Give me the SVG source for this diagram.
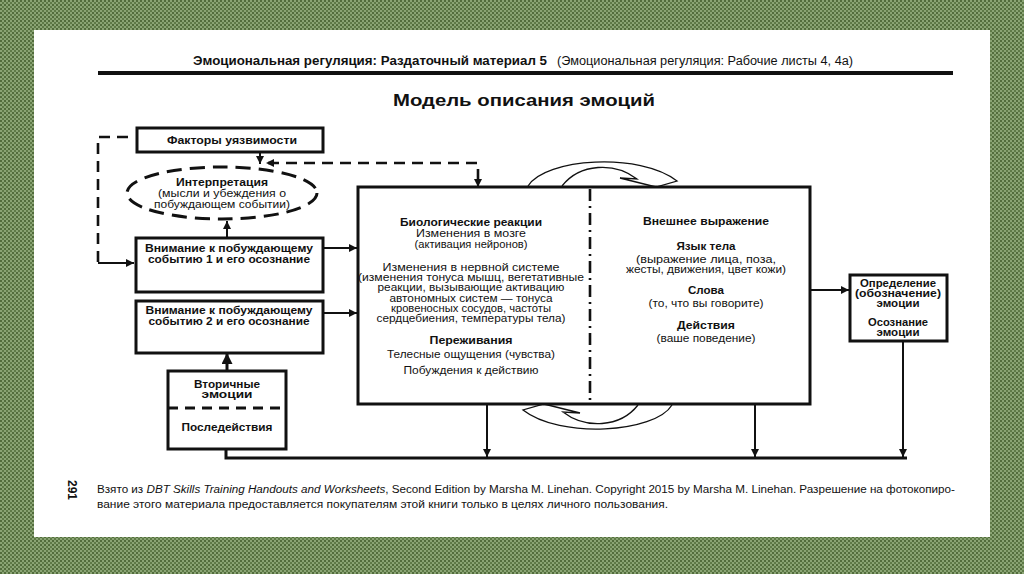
<svg xmlns="http://www.w3.org/2000/svg" width="1024" height="574" viewBox="0 0 1024 574">
<defs>
<pattern id="bg" width="4" height="4" patternUnits="userSpaceOnUse">
<rect width="4" height="4" fill="#8aa474"/>
<rect width="2" height="2" fill="#526c3c"/>
<rect x="2" y="2" width="2" height="2" fill="#5e7a47"/>
</pattern>
<marker id="ah" viewBox="0 0 10 10" refX="10" refY="5" markerWidth="9" markerHeight="8" markerUnits="userSpaceOnUse" orient="auto-start-reverse">
<path d="M0,0 L10,5 L0,10 z" fill="#111"/>
</marker>
<marker id="ahb" viewBox="0 0 10 10" refX="10" refY="5" markerWidth="11" markerHeight="11" markerUnits="userSpaceOnUse" orient="auto">
<path d="M0,0 L10,5 L0,10 z" fill="#111"/>
</marker>
</defs>
<style>
.box{fill:#fff;stroke:#111;stroke-width:3}
.ln{fill:none;stroke:#111;stroke-width:2}
.thk{fill:none;stroke:#111;stroke-width:3}
.dash{fill:none;stroke:#111;stroke-width:2.6;stroke-dasharray:11 7}
.curve{fill:none;stroke:#111;stroke-width:1.3}
text{font-family:"Liberation Sans",Arial,"DejaVu Sans",sans-serif;fill:#111;text-anchor:middle}
.b{font-weight:bold;font-size:10px}
.r{font-size:11px}
.rb{font-weight:bold;font-size:11px}
</style>
<rect width="1024" height="574" fill="url(#bg)"/>
<rect x="34" y="30" width="956" height="507" fill="#fff"/>

<g id="header">
<text x="370" y="65" font-size="12.5" font-weight="bold" textLength="354" lengthAdjust="spacingAndGlyphs">Эмоциональная регуляция: Раздаточный материал 5</text>
<text x="705" y="65" font-size="12" textLength="296" lengthAdjust="spacingAndGlyphs">(Эмоциональная регуляция: Рабочие листы 4, 4а)</text>
<rect x="98" y="71" width="855" height="4" fill="#111"/>
<text x="524" y="106" font-size="17" font-weight="bold" textLength="262" lengthAdjust="spacingAndGlyphs">Модель описания эмоций</text>
</g>

<g id="connectors">
<line class="ln" x1="260" y1="152" x2="260" y2="164" marker-end="url(#ah)"/>
<path class="dash" d="M268,163 H478 V180"/>
<line class="ln" x1="478" y1="178" x2="478" y2="187" marker-end="url(#ah)"/>
<path d="M274,159 L266,163 L274,167 z" fill="#111"/>
<path class="dash" d="M98,262 V137 H128"/>
<line class="ln" x1="98" y1="263" x2="134" y2="263" marker-end="url(#ah)"/>
<line class="ln" x1="227" y1="238" x2="227" y2="221" marker-end="url(#ah)"/>
<line class="thk" x1="229" y1="288" x2="229" y2="268" marker-end="url(#ahb)"/>
<line class="thk" x1="227" y1="347" x2="227" y2="328" marker-end="url(#ahb)"/>
<line class="thk" x1="227" y1="371" x2="227" y2="353" marker-end="url(#ahb)"/>
<line class="ln" x1="323" y1="248" x2="357" y2="248" marker-end="url(#ah)"/>
<line class="ln" x1="323" y1="313" x2="357" y2="313" marker-end="url(#ah)"/>
<line class="ln" x1="810" y1="290" x2="849" y2="290" marker-end="url(#ah)"/>
<path class="thk" d="M226,450 V458 H907"/>
<line class="ln" x1="487" y1="404" x2="487" y2="457" marker-end="url(#ah)"/>
<line class="ln" x1="755" y1="404" x2="755" y2="457" marker-end="url(#ah)"/>
<line class="ln" x1="903" y1="341" x2="903" y2="457" marker-end="url(#ah)"/>
</g>

<g id="vulnerability">
<rect class="box" x="137" y="128" width="186" height="24"/>
<text class="b" x="232" y="144" textLength="130" lengthAdjust="spacingAndGlyphs">Факторы уязвимости</text>
</g>

<g id="interpretation">
<ellipse cx="222" cy="193" rx="95" ry="26" fill="#fff" stroke="#111" stroke-width="3" stroke-dasharray="15 8"/>
<text class="b" x="222" y="186" textLength="92" lengthAdjust="spacingAndGlyphs">Интерпретация</text>
<text class="r" x="222" y="197" font-size="10.5" textLength="128" lengthAdjust="spacingAndGlyphs">(мысли и убеждения о</text>
<text class="r" x="222" y="208" font-size="10.5" textLength="136" lengthAdjust="spacingAndGlyphs">побуждающем событии)</text>
</g>

<g id="attention1">
<rect class="box" x="136" y="238" width="187" height="54"/>
<text class="b" x="229" y="252" textLength="168" lengthAdjust="spacingAndGlyphs">Внимание к побуждающему</text>
<text class="b" x="229" y="263" textLength="162" lengthAdjust="spacingAndGlyphs">событию 1 и его осознание</text>
</g>

<g id="attention2">
<rect class="box" x="136" y="301" width="187" height="52"/>
<text class="b" x="229" y="314" textLength="167" lengthAdjust="spacingAndGlyphs">Внимание к побуждающему</text>
<text class="b" x="229" y="325" textLength="161" lengthAdjust="spacingAndGlyphs">событию 2 и его осознание</text>
</g>

<g id="secondary">
<rect class="box" x="168" y="371" width="118" height="78"/>
<line x1="168" y1="408" x2="286" y2="408" stroke="#111" stroke-width="3" stroke-dasharray="10 7"/>
<text class="b" x="227" y="388" textLength="66" lengthAdjust="spacingAndGlyphs">Вторичные</text>
<text class="b" x="227" y="398" textLength="51" lengthAdjust="spacingAndGlyphs">эмоции</text>
<text class="b" x="227" y="431" textLength="91" lengthAdjust="spacingAndGlyphs">Последействия</text>
</g>

<g id="emotion">
<rect class="box" x="358" y="187" width="452" height="217"/>
<line x1="590" y1="189" x2="590" y2="403" stroke="#111" stroke-width="2.6" stroke-dasharray="12 5 2 5"/>
<text class="rb" x="471" y="226" textLength="142" lengthAdjust="spacingAndGlyphs">Биологические реакции</text>
<text class="r" x="471" y="237" textLength="110" lengthAdjust="spacingAndGlyphs">Изменения в мозге</text>
<text class="r" x="471" y="248" textLength="113" lengthAdjust="spacingAndGlyphs">(активация нейронов)</text>
<text class="r" x="471" y="271" textLength="177" lengthAdjust="spacingAndGlyphs">Изменения в нервной системе</text>
<text class="r" x="471" y="281" textLength="226" lengthAdjust="spacingAndGlyphs">(изменения тонуса мышц, вегетативные</text>
<text class="r" x="471" y="291" textLength="187" lengthAdjust="spacingAndGlyphs">реакции, вызывающие активацию</text>
<text class="r" x="471" y="302" textLength="163" lengthAdjust="spacingAndGlyphs">автономных систем — тонуса</text>
<text class="r" x="471" y="312" textLength="160" lengthAdjust="spacingAndGlyphs">кровеносных сосудов, частоты</text>
<text class="r" x="471" y="322" textLength="189" lengthAdjust="spacingAndGlyphs">сердцебиения, температуры тела)</text>
<text class="rb" x="471" y="344" textLength="83" lengthAdjust="spacingAndGlyphs">Переживания</text>
<text class="r" x="471" y="358" textLength="168" lengthAdjust="spacingAndGlyphs">Телесные ощущения (чувства)</text>
<text class="r" x="471" y="374" textLength="135" lengthAdjust="spacingAndGlyphs">Побуждения к действию</text>
<text class="rb" x="706" y="225" textLength="126" lengthAdjust="spacingAndGlyphs">Внешнее выражение</text>
<text class="rb" x="706" y="250" textLength="59" lengthAdjust="spacingAndGlyphs">Язык тела</text>
<text class="r" x="706" y="263" textLength="140" lengthAdjust="spacingAndGlyphs">(выражение лица, поза,</text>
<text class="r" x="706" y="273" textLength="160" lengthAdjust="spacingAndGlyphs">жесты, движения, цвет кожи)</text>
<text class="rb" x="706" y="294" textLength="36" lengthAdjust="spacingAndGlyphs">Слова</text>
<text class="r" x="706" y="307" textLength="115" lengthAdjust="spacingAndGlyphs">(то, что вы говорите)</text>
<text class="rb" x="706" y="329" textLength="58" lengthAdjust="spacingAndGlyphs">Действия</text>
<text class="r" x="706" y="342" textLength="99" lengthAdjust="spacingAndGlyphs">(ваше поведение)</text>
<path id="loop-top" class="curve" d="M528,186 C545,158 640,152 677,181 L656,187 L620,178 L637,179 C615,162 580,163 562,186"/>
<path id="loop-bottom" class="curve" d="M528,186 C545,158 640,152 677,181 L656,187 L620,178 L637,179 C615,162 580,163 562,186" transform="rotate(180 600 295.5)"/>
</g>

<g id="labeling">
<rect class="box" x="850" y="275" width="97" height="66"/>
<text class="b" x="898" y="287" textLength="76" lengthAdjust="spacingAndGlyphs">Определение</text>
<text class="b" x="898" y="297" textLength="86" lengthAdjust="spacingAndGlyphs">(обозначение)</text>
<text class="b" x="898" y="307" textLength="43" lengthAdjust="spacingAndGlyphs">эмоции</text>
<text class="b" x="898" y="326" textLength="60" lengthAdjust="spacingAndGlyphs">Осознание</text>
<text class="b" x="898" y="336" textLength="43" lengthAdjust="spacingAndGlyphs">эмоции</text>
</g>

<g id="footer">
<text x="72" y="494" font-size="12" font-weight="bold" transform="rotate(90 72 490)">291</text>
<text x="97" y="493" font-size="10" style="text-anchor:start" textLength="858" lengthAdjust="spacingAndGlyphs">Взято из <tspan font-style="italic">DBT Skills Training Handouts and Worksheets</tspan>, Second Edition by Marsha M. Linehan. Copyright 2015 by Marsha M. Linehan. Разрешение на фотокопиро-</text>
<text x="97" y="508" font-size="10" style="text-anchor:start" textLength="571" lengthAdjust="spacingAndGlyphs">вание этого материала предоставляется покупателям этой книги только в целях личного пользования.</text>
</g>
</svg>
